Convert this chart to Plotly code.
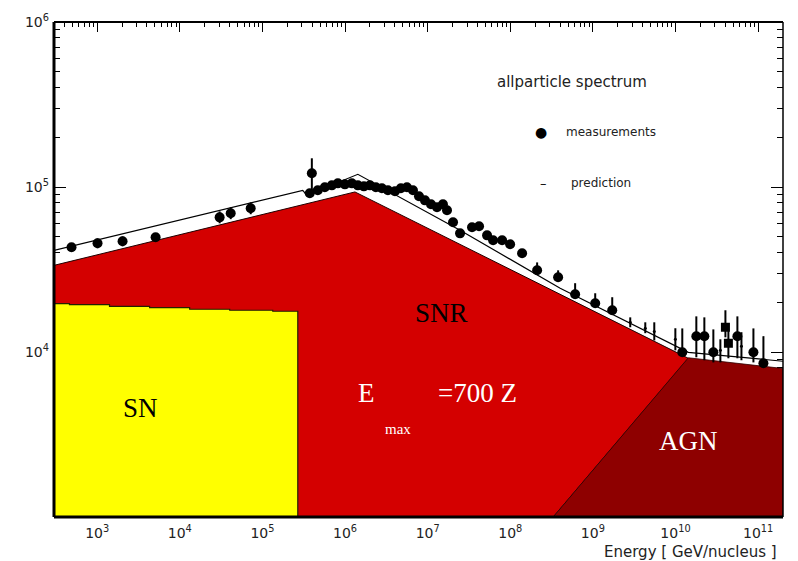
import numpy as np
import plotly.graph_objects as go

# ---- axis limits -------------------------------------------------------
E_MIN, E_MAX = 3e2, 2e11          # GeV/nucleus
F_MIN, F_MAX = 1e3, 1e6

# ---- source components (log10 E, log10 flux) --------------------------
# SN: stepped top, cut off near 2.7e5 GeV
sn_logE = [2.477, 2.664, 3.149, 3.634, 4.119, 4.604, 5.125, 5.428]
sn_logF = [4.293, 4.287, 4.277, 4.269, 4.259, 4.253, 4.247, 4.247]

# SNR: broken power law, E_max = 700 Z
snr_logE = [2.477, 6.120, 10.155]
snr_logF = [4.525, 4.970, 3.962]

# AGN: rising edge then flat extragalactic component
agn_logE = [8.519, 10.155, 11.301]
agn_logF = [3.000, 3.965, 3.900]

# total prediction
pred_logE = [2.477, 5.488, 5.537, 6.155, 7.392, 8.604, 10.155, 11.301]
pred_logF = [4.616, 4.980, 4.950, 5.077, 4.738, 4.386, 3.998, 3.944]

# ---- measurements (log10 E, log10 flux, errors in dex) ----------------
dot_logE = [2.689, 3.004, 3.307, 3.707, 4.482, 4.616, 4.858, 5.598,
            5.573, 5.670, 5.755, 5.840, 5.913, 5.998, 6.082, 6.155,
            6.228, 6.301, 6.373, 6.446, 6.519, 6.604, 6.676, 6.749,
            6.822, 6.895, 6.967, 7.040, 7.113, 7.185, 7.234, 7.307,
            7.392, 7.537, 7.622, 7.719, 7.792, 7.901, 7.998, 8.143,
            8.325, 8.579, 8.785, 9.028, 9.234,
            10.082, 10.252, 10.349, 10.458, 10.749, 10.943, 11.064]
dot_logF = [4.635, 4.659, 4.671, 4.695, 4.816, 4.841, 4.871, 5.083,
            4.962, 4.980, 4.998, 5.010, 5.022, 5.016, 5.022, 5.010,
            5.004, 5.010, 4.998, 4.992, 4.980, 4.974, 4.992, 4.998,
            4.980, 4.944, 4.919, 4.895, 4.877, 4.895, 4.859, 4.786,
            4.719, 4.756, 4.762, 4.707, 4.677, 4.677, 4.653, 4.598,
            4.495, 4.453, 4.350, 4.295, 4.253,
            3.998, 4.095, 4.095, 3.998, 4.095, 3.998, 3.932]
dot_err_up = [0, .030, .030, .024, .036, .036, .036, .091,
              0, 0, 0, 0, 0, 0, 0, 0,
              0, 0, 0, 0, 0, 0, 0, 0,
              0, 0, 0, 0, 0, 0, 0, 0,
              0, 0, 0, 0, 0, 0, 0, 0,
              .048, .042, .067, .061, .079,
              .145, .121, .115, .139, .121, .145, .164]
dot_err_dn = [0, .030, .030, .024, .036, .036, .036, .103,
              0, 0, 0, 0, 0, 0, 0, 0,
              0, 0, 0, 0, 0, 0, 0, 0,
              0, 0, 0, 0, 0, 0, 0, 0,
              0, 0, 0, 0, 0, 0, 0, 0,
              0, 0, 0, 0, 0,
              .006, .127, .145, .061, .133, .061, .012]

sq_logE = [10.604, 10.640]
sq_logF = [4.150, 4.053]
sq_err_up = [.103, .121]
sq_err_dn = [.061, .091]

bar_logE = [9.452, 9.634, 9.743, 9.998, 10.543, 10.798]
bar_logF = [4.180, 4.144, 4.125, 4.077, 4.010, 4.035]
bar_err_up = [.030, .036, .055, .067, .067, .085]
bar_err_dn = [.030, .030, .055, .067, .073, .085]

x_tick_exp = list(range(3, 12))
y_tick_exp = [4, 5, 6]


def lin(v):
    return [10 ** a for a in v]


def errs(logF, up, dn):
    y = np.power(10.0, logF)
    plus = np.power(10.0, np.add(logF, up)) - y
    minus = y - np.power(10.0, np.subtract(logF, dn))
    return y, plus, minus


lo = np.log10(F_MIN)
fig = go.Figure()

# SNR component (red)
snr_x = snr_logE + [agn_logE[0], snr_logE[0]]
snr_y = snr_logF + [agn_logF[0], lo]
fig.add_trace(go.Scatter(x=lin(snr_x), y=lin(snr_y), fill="toself",
                         fillcolor="#d40000", mode="lines",
                         line=dict(color="#200000", width=1),
                         hoverinfo="skip", showlegend=False))

# SN component (yellow, stepped top) drawn over the SNR area
sn_x, sn_y = [sn_logE[0]], [lo]
for i, (a, b) in enumerate(zip(sn_logE, sn_logF)):
    if i > 0:
        sn_x.append(a)
        sn_y.append(sn_logF[i - 1])
    sn_x.append(a)
    sn_y.append(b)
sn_x += [sn_logE[-1]]
sn_y += [lo]
fig.add_trace(go.Scatter(x=lin(sn_x), y=lin(sn_y), fill="toself",
                         fillcolor="#ffff00", mode="lines",
                         line=dict(color="#222200", width=1.2),
                         hoverinfo="skip", showlegend=False))

# AGN component (dark red)
agn_x = agn_logE + [agn_logE[-1], agn_logE[0]]
agn_y = agn_logF + [lo, lo]
fig.add_trace(go.Scatter(x=lin(agn_x), y=lin(agn_y), fill="toself",
                         fillcolor="#8e0000", mode="lines",
                         line=dict(color="#300000", width=0.8),
                         hoverinfo="skip", showlegend=False))

# total prediction
fig.add_trace(go.Scatter(x=lin(pred_logE), y=lin(pred_logF), mode="lines",
                         line=dict(color="black", width=1.2),
                         hoverinfo="skip", showlegend=False))

# measurements
y, p, m = errs(bar_logF, bar_err_up, bar_err_dn)
fig.add_trace(go.Scatter(x=lin(bar_logE), y=y, mode="markers",
                         marker=dict(color="black", size=3),
                         error_y=dict(type="data", array=p, arrayminus=m,
                                      color="black", thickness=2, width=0),
                         showlegend=False))
y, p, m = errs(dot_logF, dot_err_up, dot_err_dn)
fig.add_trace(go.Scatter(x=lin(dot_logE), y=y, mode="markers",
                         marker=dict(color="black", size=10, symbol="circle"),
                         error_y=dict(type="data", array=p, arrayminus=m,
                                      color="black", thickness=2, width=0),
                         showlegend=False))
y, p, m = errs(sq_logF, sq_err_up, sq_err_dn)
fig.add_trace(go.Scatter(x=lin(sq_logE), y=y, mode="markers",
                         marker=dict(color="black", size=9, symbol="square"),
                         error_y=dict(type="data", array=p, arrayminus=m,
                                      color="black", thickness=2, width=0),
                         showlegend=False))

ml, mr, mt, mb = 54, 15, 22, 44
W, H = 798, 561
pw, ph = W - ml - mr, H - mt - mb


def px(x):
    return (x - ml) / pw


def py(y):
    return (H - mb - y) / ph


serif = "Liberation Serif, Times New Roman, serif"
sans = "DejaVu Sans, Liberation Sans, sans-serif"
ann = [
    dict(text="SN", x=px(140), y=py(408), font=dict(family=serif, size=27, color="black")),
    dict(text="SNR", x=px(441), y=py(313), font=dict(family=serif, size=27, color="black")),
    dict(text="E", x=px(366), y=py(393), font=dict(family=serif, size=27, color="white")),
    dict(text="=700 Z", x=px(477), y=py(393), font=dict(family=serif, size=27, color="white")),
    dict(text="max", x=px(398), y=py(429), font=dict(family=serif, size=15, color="white")),
    dict(text="AGN", x=px(688), y=py(441), font=dict(family=serif, size=27, color="white")),
    dict(text="allparticle spectrum", x=px(572), y=py(82), font=dict(family=sans, size=15, color="#222")),
    dict(text="●", x=px(541), y=py(132), font=dict(family=sans, size=14, color="black")),
    dict(text="measurements", x=px(611), y=py(132), font=dict(family=sans, size=12, color="#222")),
    dict(text="–", x=px(543), y=py(183), font=dict(family=sans, size=13, color="black")),
    dict(text="prediction", x=px(601), y=py(183), font=dict(family=sans, size=12, color="#222")),
    dict(text="Energy [ GeV/nucleus ]", x=px(690), y=py(552), font=dict(family=sans, size=15, color="#222")),
]
for a in ann:
    a.update(xref="paper", yref="paper", showarrow=False, xanchor="center", yanchor="middle")

frame = [
    dict(type="line", xref="paper", yref="paper", x0=0, x1=0, y0=0, y1=1, line=dict(color="black", width=3)),
    dict(type="line", xref="paper", yref="paper", x0=0, x1=1, y0=0, y1=0, line=dict(color="black", width=3)),
    dict(type="line", xref="paper", yref="paper", x0=0, x1=1, y0=1, y1=1, line=dict(color="black", width=2)),
    dict(type="line", xref="paper", yref="paper", x0=1, x1=1, y0=0, y1=1, line=dict(color="black", width=1.5)),
]

fig.update_layout(
    width=W, height=H,
    margin=dict(l=ml, r=mr, t=mt, b=mb),
    paper_bgcolor="white", plot_bgcolor="white",
    showlegend=False,
    annotations=ann,
    shapes=frame,
    xaxis=dict(type="log", range=[np.log10(E_MIN), np.log10(E_MAX)],
               tickvals=[10 ** k for k in x_tick_exp],
               ticktext=[f"10<sup>{k}</sup>" for k in x_tick_exp],
               ticks="inside", ticklen=10, tickwidth=1.2, tickcolor="black",
               minor=dict(ticks="inside", ticklen=5, tickcolor="black", dtick="D1", showgrid=False),
               mirror="ticks", showline=False, showgrid=False, zeroline=False,
               layer="below traces", ticklabelstandoff=6,
               tickfont=dict(family=sans, size=14, color="#222")),
    yaxis=dict(type="log", range=[np.log10(F_MIN), np.log10(F_MAX)],
               tickvals=[10 ** k for k in y_tick_exp],
               ticktext=[f"10<sup>{k}</sup>" for k in y_tick_exp],
               ticks="inside", ticklen=12, tickwidth=1.2, tickcolor="black",
               minor=dict(ticks="inside", ticklen=6, tickcolor="black", dtick="D1", showgrid=False),
               mirror="ticks", showline=False, showgrid=False, zeroline=False,
               layer="below traces", ticklabelstandoff=4,
               tickfont=dict(family=sans, size=14, color="#222")),
)

fig.write_html("out.html")
